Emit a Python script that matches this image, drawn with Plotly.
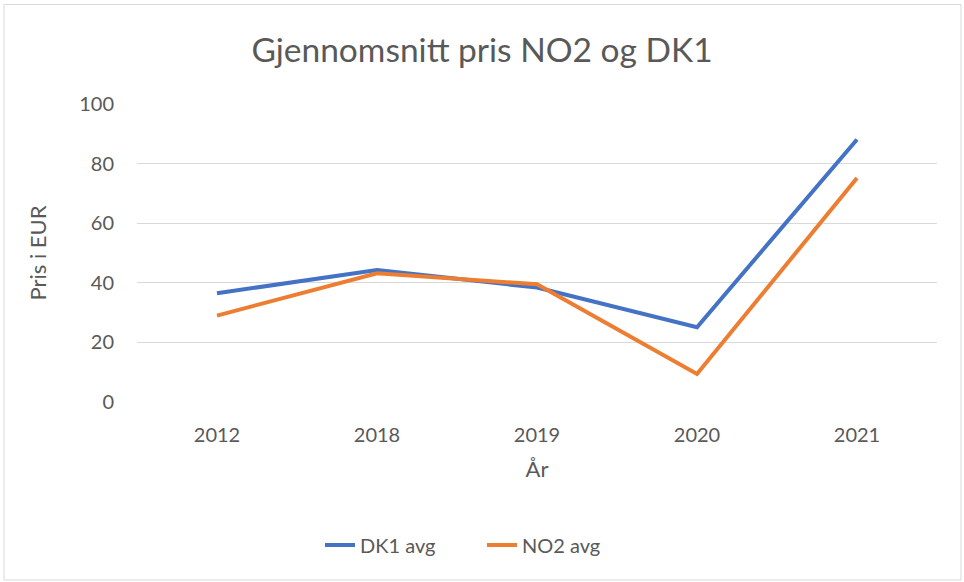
import plotly.graph_objects as go

years = ["2012", "2018", "2019", "2020", "2021"]
dk1_avg = [36.5, 44.3, 38.4, 25.1, 88.1]
no2_avg = [29.0, 43.2, 39.5, 9.4, 75.2]

FONT = "Lato, 'Open Sans', sans-serif"
GRAY = "#595959"

W, H = 964, 582
L, R, T, B = 137, 27, 104, 180

fig = go.Figure()
fig.add_trace(go.Scatter(x=years, y=dk1_avg, mode="lines", name="DK1 avg",
                         line=dict(color="#4472C4", width=4)))
fig.add_trace(go.Scatter(x=years, y=no2_avg, mode="lines", name="NO2 avg",
                         line=dict(color="#ED7D31", width=4)))

pw, ph = W - L - R, H - T - B
def px2paper_x(x): return (x - L) / pw
def px2paper_y(y): return (H - B - y) / ph

fig.add_shape(type="rect", xref="paper", yref="paper",
              x0=px2paper_x(4), x1=px2paper_x(961), y0=px2paper_y(580), y1=px2paper_y(4.5),
              line=dict(color="#D9D9D9", width=1), fillcolor="rgba(0,0,0,0)", layer="below")

fig.update_layout(
    width=W, height=H,
    margin=dict(l=L, r=R, t=T, b=B),
    paper_bgcolor="white", plot_bgcolor="white",
    font=dict(family=FONT, color=GRAY, size=20),
    title=dict(text="Gjennomsnitt pris NO2 og DK1", x=0.5, xref="container", xanchor="center",
               y=1 - 50 / H, yref="container", yanchor="middle",
               font=dict(size=33.5, color=GRAY, family=FONT)),
    xaxis=dict(type="category", range=[-0.5, 4.5], showgrid=False, showline=False, zeroline=False,
               ticks="", tickfont=dict(size=20, color=GRAY), ticklabelstandoff=19,
               title=dict(text="År", font=dict(size=22, color=GRAY), standoff=16)),
    yaxis=dict(range=[0, 100], dtick=20, showgrid=True, gridcolor="#D9D9D9", gridwidth=1,
               zeroline=False, showline=False, ticks="", tickfont=dict(size=20, color=GRAY),
               ticklabelstandoff=22,
               title=dict(text="Pris i EUR", font=dict(size=22, color=GRAY), standoff=26)),
    legend=dict(orientation="h", x=0.5, xref="container", xanchor="center",
                y=37 / H, yref="container", yanchor="middle",
                font=dict(size=20, color=GRAY), tracegroupgap=0,
                entrywidth=117, entrywidthmode="pixels", itemwidth=30),
    showlegend=True,
)

fig.write_html("out.html", config={"displayModeBar": False},
               post_script="document.body.style.margin='0px';")
